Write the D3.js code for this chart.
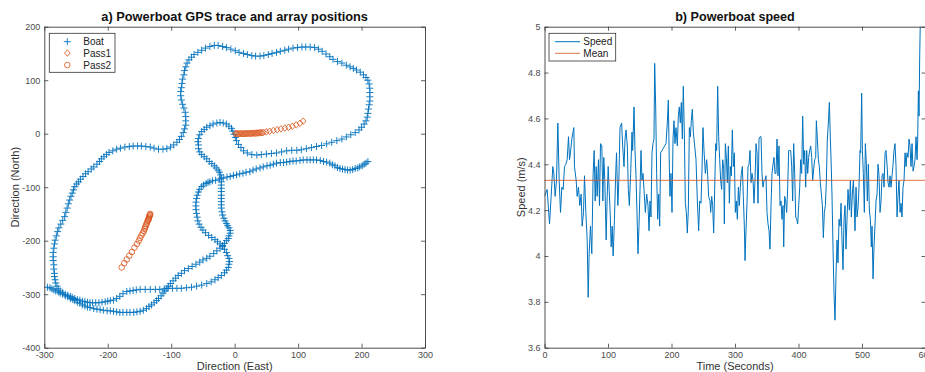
<!DOCTYPE html>
<html><head><meta charset="utf-8">
<script src="https://cdn.jsdelivr.net/npm/d3@7"></script>
<style>body{margin:0;background:#fff;} svg text{font-family:"Liberation Sans",Arial,Helvetica,sans-serif;}</style>
</head><body><svg id="chart" width="925" height="372"></svg>
<script>
// ---------------- data ----------------
const boatTrack = [
[-295,-287],[-291,-288],[-288,-290],[-285,-292],[-282,-294],[-278,-296],[-275,-298],[-271,-300],[-267,-303],[-263,-305],
[-259,-308],[-255,-310],[-252,-312],[-248,-315],[-244,-317],[-240,-320],[-236,-322],[-232,-324],[-228,-325],[-222,-327],
[-217,-328],[-212,-329],[-207,-330],[-201,-331],[-196,-331],[-191,-332],[-186,-333],[-181,-334],[-176,-334],[-170,-334],
[-165,-334],[-159,-334],[-154,-333],[-149,-332],[-144,-330],[-139,-327],[-135,-323],[-131,-320],[-127,-316],[-123,-312],
[-120,-308],[-116,-303],[-113,-298],[-110,-294],[-107,-289],[-104,-285],[-101,-280],[-97,-275],[-93,-270],[-89,-265],
[-84,-261],[-79,-256],[-73,-252],[-67,-248],[-61,-244],[-55,-240],[-50,-236],[-44,-233],[-39,-229],[-33,-224],
[-28,-219],[-23,-214],[-19,-209],[-16,-205],[-13,-200],[-10,-196],[-9,-191],[-7,-186],[-7,-181],[-9,-176],
[-11,-172],[-13,-168],[-15,-163],[-17,-158],[-19,-152],[-20,-146],[-21,-139],[-21,-133],[-21,-127],[-21,-121],
[-21,-115],[-21,-108],[-21,-102],[-21,-96],[-21,-90],[-21,-83],[-22,-77],[-24,-72],[-26,-68],[-29,-64],
[-32,-60],[-36,-56],[-40,-52],[-44,-47],[-48,-43],[-52,-39],[-55,-34],[-57,-28],[-57,-21],[-58,-15],
[-57,-9],[-55,-2],[-52,4],[-48,8],[-44,12],[-39,15],[-34,18],[-28,20],[-23,21],[-18,20],
[-13,18],[-9,14],[-5,10],[-3,5],[-1,-1],[1,-7],[3,-13],[6,-20],[10,-26],[14,-32],
[20,-36],[27,-39],[35,-40],[42,-39],[50,-38],[58,-37],[66,-36],[74,-34],[82,-32],[90,-31],
[98,-31],[105,-30],[113,-28],[121,-26],[129,-24],[137,-22],[145,-19],[153,-16],[161,-13],[169,-10],
[176,-6],[183,-2],[190,2],[196,7],[200,12],[204,18],[207,24],[209,31],[210,38],[211,46],
[212,54],[213,61],[213,69],[213,77],[213,85],[212,93],[210,100],[207,105],[203,110],[198,115],
[192,119],[187,122],[182,125],[176,128],[169,132],[162,135],[155,139],[150,144],[144,149],[138,154],
[132,158],[126,161],[119,162],[112,162],[106,162],[99,161],[92,160],[85,158],[79,156],[72,154],
[66,152],[59,150],[53,148],[46,146],[40,145],[33,145],[27,146],[20,148],[14,150],[7,152],
[1,155],[-6,158],[-13,161],[-19,163],[-26,165],[-32,165],[-39,163],[-46,160],[-52,156],[-58,152],
[-64,148],[-68,143],[-72,138],[-75,132],[-77,125],[-79,118],[-80,110],[-82,102],[-83,94],[-84,86],
[-85,79],[-85,71],[-84,63],[-82,55],[-80,48],[-78,40],[-77,32],[-77,24],[-77,16],[-79,9],
[-81,2],[-84,-5],[-87,-11],[-91,-16],[-96,-21],[-101,-25],[-107,-28],[-113,-29],[-120,-29],[-127,-27],
[-133,-25],[-140,-24],[-147,-23],[-153,-23],[-160,-23],[-166,-24],[-173,-25],[-180,-27],[-186,-29],[-192,-32],
[-198,-35],[-202,-39],[-206,-43],[-210,-47],[-213,-52],[-217,-57],[-222,-62],[-226,-66],[-231,-71],[-235,-75],
[-239,-80],[-243,-85],[-246,-90],[-249,-94],[-252,-99],[-254,-105],[-256,-111],[-258,-117],[-260,-124],[-262,-131],
[-264,-139],[-266,-147],[-268,-155],[-271,-162],[-274,-169],[-277,-176],[-279,-183],[-281,-191],[-283,-199],[-284,-206],
[-285,-214],[-286,-222],[-286,-230],[-286,-237],[-285,-245],[-285,-253],[-284,-261],[-284,-267],[-283,-273],[-282,-279],
[-280,-285],[-278,-290],[-275,-294],[-271,-297],[-267,-300],[-263,-302],[-259,-304],[-256,-306],[-252,-308],[-248,-310],
[-244,-311],[-240,-313],[-236,-314],[-232,-315],[-228,-316],[-224,-316],[-219,-316],[-214,-316],[-209,-315],[-204,-314],
[-200,-313],[-196,-312],[-191,-311],[-186,-308],[-181,-304],[-176,-299],[-170,-295],[-165,-294],[-160,-293],[-155,-292],
[-149,-291],[-141,-291],[-133,-291],[-125,-291],[-118,-291],[-111,-290],[-105,-289],[-98,-289],[-91,-289],[-84,-289],
[-76,-288],[-68,-287],[-60,-285],[-52,-283],[-44,-280],[-37,-277],[-31,-273],[-26,-269],[-21,-265],[-16,-260],
[-13,-255],[-10,-250],[-9,-244],[-8,-239],[-9,-233],[-11,-228],[-13,-222],[-16,-216],[-19,-211],[-23,-206],
[-27,-202],[-31,-198],[-36,-194],[-41,-190],[-46,-185],[-50,-180],[-53,-175],[-56,-169],[-58,-163],[-59,-156],
[-60,-149],[-61,-142],[-61,-135],[-61,-128],[-60,-121],[-59,-115],[-57,-109],[-55,-104],[-52,-99],[-49,-96],
[-45,-93],[-42,-91],[-39,-90],[-35,-88],[-30,-87],[-24,-85],[-18,-83],[-12,-81],[-7,-80],[-2,-78],
[3,-77],[8,-75],[13,-74],[18,-72],[24,-71],[29,-68],[34,-66],[40,-64],[45,-62],[51,-60],
[56,-59],[61,-57],[66,-55],[72,-54],[77,-54],[82,-53],[87,-52],[92,-51],[97,-51],[103,-50],
[108,-49],[114,-49],[119,-49],[124,-49],[129,-49],[135,-50],[140,-52],[145,-53],[150,-55],[154,-58],
[158,-60],[162,-63],[166,-65],[170,-66],[174,-67],[178,-68],[182,-68],[186,-67],[190,-65],[194,-64],
[197,-62],[201,-60],[204,-57],[207,-55],[210,-52]
];
const pass1Positions = [
[1,0],[3,0],[5,0],[7,0],[9,0],[11,0],[13,0],[15,0],[17,0.3],[19,0.3],[21,0.5],[23,0.5],[25,0.5],[27,0.7],
[29,0.8],[31,1],[33,1],[35,1.2],[37,1.4],[39,1.6],[41,1.8],[43,2],[45.5,2.5],[50,3.5],[55,4.5],[61,6],
[67,7.5],[73,9],[79,10.5],[85,12],[91,14],[97,16.5],[103,19.5],[108,23.5]
];
const pass2Positions = [
[-178,-250],[-174,-242],[-170,-235],[-166,-228],[-162,-221],[-158,-213],[-154,-206],[-151,-200],[-149,-195],
[-147,-190],[-145,-186],[-143,-182],[-142,-178],[-141,-175],[-140,-172],[-139,-169],[-138,-166],[-137,-163],
[-136,-161],[-135.5,-159],[-135,-157],[-134.5,-155],[-134,-153],[-133.5,-151.5],[-133,-150]
];
const speedSamples = [
[0,4.26],[4.2,4.29],[7.9,4.14],[10.5,4.26],[13.1,4.39],[14.7,4.36],[16.8,4.26],[18.9,4.33],[21,4.58],[23.1,4.33],
[25.2,4.19],[27.3,4.30],[29.4,4.29],[31.5,4.39],[33.6,4.40],[35.7,4.42],[37.8,4.52],[39.4,4.42],[40.9,4.45],[43,4.51],
[46.2,4.56],[47.2,4.39],[49.9,4.33],[51.4,4.26],[53.5,4.30],[55.6,4.22],[57.7,4.27],[59.3,4.13],[61.4,4.19],[63,4.35],
[65.1,4.19],[67.2,4.07],[68.8,3.82],[70.3,4.01],[72.4,4.13],[74.5,4.01],[76.6,4.36],[78.2,4.46],[79.8,4.24],[81.4,4.39],
[82.9,4.26],[85,4.42],[86.6,4.22],[88.2,4.49],[90.3,4.48],[91.9,4.24],[93.4,4.43],[95,4.33],[97.1,4.07],[98.7,4.26],
[100.3,4.39],[101.8,4.29],[103.4,4.19],[105,4.04],[106.6,4.13],[108.1,4.00],[110.2,4.16],[111.8,4.33],[113.4,4.45],[115.5,4.22],
[117.1,4.33],[118.9,4.56],[121.5,4.58],[123.1,4.48],[125.2,4.39],[126.8,4.51],[128.4,4.55],[130.4,4.48],[132,4.29],[133.6,4.22],
[135.7,4.36],[137.8,4.54],[138.8,4.46],[141,4.65],[142.5,4.46],[144.1,4.35],[146.2,4.13],[147.2,4.01],[148.8,4.13],[150.4,4.29],
[152,4.46],[153.5,4.33],[155.1,4.36],[156.7,4.29],[158.8,4.19],[160.9,4.27],[163,4.22],[164.6,4.11],[166.1,4.24],[167.7,4.17],
[169.3,4.45],[170.9,4.49],[172.4,4.51],[173.5,4.84],[175.1,4.65],[176.6,4.36],[178.2,4.16],[179.8,4.27],[181.4,4.13],[182.9,4.45],
[185,4.46],[187.1,4.47],[189.2,4.48],[191.3,4.49],[193.4,4.58],[195,4.68],[196.6,4.39],[197.6,4.26],[199.2,4.36],[200.8,4.19],
[202.4,4.51],[203.9,4.59],[205.5,4.49],[207.1,4.56],[209.2,4.48],[210.8,4.61],[212.3,4.65],[213.9,4.58],[215.5,4.67],[217.1,4.51],
[218.6,4.74],[220.2,4.54],[221.8,4.23],[223.4,4.19],[224.9,4.10],[226.5,4.20],[228.1,4.56],[229.7,4.52],[231.2,4.59],[232.8,4.64],
[234.4,4.54],[236.5,4.48],[238.6,4.42],[240.7,4.24],[242.8,4.11],[244.4,4.24],[246.5,4.23],[248.1,4.38],[249.6,4.56],[251.2,4.46],
[253.3,4.36],[255.4,4.42],[257,4.35],[258.5,4.26],[260.6,4.24],[261.7,4.19],[263.3,4.26],[264.8,4.22],[266.4,4.10],[268,4.29],
[269.6,4.49],[271.1,4.46],[272.7,4.74],[274.3,4.52],[275.9,4.42],[277.4,4.33],[279,4.29],[280.6,4.42],[282.2,4.38],[283.2,4.14],
[284.8,4.49],[286.4,4.43],[287.9,4.32],[289.5,4.48],[291.1,4.23],[292.7,4.39],[294.2,4.35],[295.8,4.55],[297.4,4.39],[299,4.45],
[300.5,4.19],[302.1,4.24],[303.7,4.16],[305.3,4.30],[306.8,4.22],[308.4,4.30],[310,4.36],[311.6,4.39],[313.1,4.26],[314.7,4.13],
[315.8,3.98],[317.3,4.11],[318.9,4.23],[320.5,4.39],[322.1,4.40],[323.6,4.46],[325.2,4.32],[326.8,4.36],[328.4,4.33],[329.9,4.23],
[331.5,4.33],[333.1,4.49],[334.7,4.45],[336.2,4.23],[337.8,4.51],[339.4,4.52],[341,4.52],[342.5,4.36],[344.1,4.30],[345.7,4.33],
[347.3,4.33],[348.8,4.35],[350.4,4.19],[352,4.14],[353.6,4.11],[355.1,4.03],[356.7,4.22],[358.3,4.36],[359.9,4.40],[361.4,4.43],
[363,4.36],[364.6,4.36],[366.2,4.51],[367.7,4.35],[369.3,4.48],[370.9,4.22],[372.5,4.24],[374,4.16],[375.6,4.22],[376.7,4.04],
[378.2,4.26],[379.8,4.24],[381.4,4.19],[383,4.30],[384.5,4.46],[386.1,4.46],[387.7,4.46],[389.3,4.39],[390.8,4.24],[392.4,4.49],
[394,4.36],[395.6,4.17],[397.1,4.16],[398.7,4.14],[400.3,4.22],[401.9,4.30],[403.4,4.42],[405,4.36],[406.6,4.61],[408.2,4.40],
[409.7,4.46],[411.3,4.30],[412.9,4.46],[414.5,4.36],[416,4.43],[417.6,4.46],[419.2,4.48],[420.8,4.43],[422.3,4.33],[423.9,4.38],
[425.5,4.42],[427.1,4.43],[428.1,4.59],[429.7,4.51],[431.3,4.42],[432.8,4.39],[434.4,4.32],[436,4.27],[437.6,4.22],[439.1,4.08],
[440.7,4.19],[442.3,4.22],[443.9,4.33],[445.4,4.51],[447,4.58],[448.6,4.67],[450.2,4.51],[451.7,4.38],[452.8,4.26],[454.4,4.03],
[455.9,3.84],[457.5,3.72],[459.1,3.92],[460.7,4.07],[462.2,3.97],[463.8,4.16],[465.4,4.13],[467,4.23],[468.5,4.07],[470.1,3.94],
[471.7,4.16],[473.3,4.22],[474.8,4.03],[476.4,4.16],[478,4.29],[480.1,4.20],[481.7,4.33],[483.2,4.17],[484.8,4.27],[486.4,4.33],
[488,4.21],[489,4.11],[490.6,4.30],[492.2,4.17],[493.7,4.21],[495.3,4.30],[496.9,4.46],[497.9,4.45],[499.5,4.71],[500.6,4.46],
[502.1,4.36],[503.7,4.19],[505.3,4.49],[506.9,4.40],[508.4,4.24],[510,4.40],[511.6,4.20],[513.2,4.16],[514.7,4.04],[515.8,4.13],
[517.4,3.90],[518.9,4.04],[520.5,4.14],[522.1,4.24],[523.7,4.27],[525.2,4.40],[526.8,4.35],[528.4,4.19],[530,4.24],[531.5,4.35],
[533.1,4.36],[534.7,4.30],[536.3,4.45],[537.8,4.46],[539.4,4.40],[541,4.32],[542.6,4.30],[544.1,4.35],[545.7,4.30],[547.3,4.35],
[548.9,4.40],[550.4,4.46],[552,4.49],[553.6,4.39],[555.2,4.17],[556.7,4.26],[558.3,4.33],[559.9,4.19],[561.5,4.23],[563,4.17],
[564.6,4.30],[566.2,4.33],[567.8,4.45],[569.3,4.39],[570.9,4.45],[572.5,4.43],[574.1,4.51],[575.6,4.48],[577.2,4.39],[578.8,4.49],
[580.4,4.37],[581.9,4.39],[583.5,4.42],[585.1,4.52],[586.7,4.42],[587.7,4.51],[588.8,4.72],[589.8,4.61],[590.9,4.88],[591.9,5.03]
];
const speedMean = 4.33;
const gpsXTicks = [-300,-200,-100,0,100,200,300];
const gpsYTicks = [-400,-300,-200,-100,0,100,200];
const speedXTicks = [0,100,200,300,400,500,600];
const speedYTicks = [3.6,3.8,4,4.2,4.4,4.6,4.8,5];
const titles = ["a) Powerboat GPS trace and array positions", "b) Powerboat speed"];
const gpsLegend = ["Boat","Pass1","Pass2"];
const speedLegend = ["Speed","Mean"];

// ---------------- drawing ----------------
const svg = d3.select("#chart");
const blue = "#0072BD", orange = "#D95319", axisCol = "#3a3a3a", tickText = "#4a4a4a";
const gpsBox = {left:44.3, right:425, top:26.7, bottom:347.7};
const spdBox = {left:544.5, right:925.5, top:26.7, bottom:347.7};

const xE = d3.scaleLinear([-300,300],[gpsBox.left,gpsBox.right]);
const yN = d3.scaleLinear([-400,200],[gpsBox.bottom,gpsBox.top]);
const xT = d3.scaleLinear([0,600],[spdBox.left,spdBox.right]);
const yS = d3.scaleLinear([3.6,5],[spdBox.bottom,spdBox.top]);

function frame(box, x, y, xt, yt) {
  const g = svg.append("g");
  const fmt = d => String(+d.toFixed(1));
  const style = sel => {
    sel.selectAll("path.domain").attr("stroke", axisCol).attr("stroke-width", 0.9);
    sel.selectAll(".tick line").attr("stroke", axisCol).attr("stroke-width", 0.8);
    sel.selectAll(".tick text").attr("fill", tickText).attr("font-size", 9)
      .attr("font-family", '"Liberation Sans",Arial,sans-serif');
  };
  g.append("g").attr("transform",`translate(0,${box.bottom})`)
    .call(d3.axisBottom(x).tickValues(xt).tickSizeInner(-4).tickSizeOuter(0).tickPadding(4).tickFormat(fmt)).call(style);
  g.append("g").attr("transform",`translate(0,${box.top})`)
    .call(d3.axisTop(x).tickValues(xt).tickSizeInner(-4).tickSizeOuter(0).tickFormat("")).call(style);
  g.append("g").attr("transform",`translate(${box.left},0)`)
    .call(d3.axisLeft(y).tickValues(yt).tickSizeInner(-4).tickSizeOuter(0).tickPadding(4).tickFormat(fmt)).call(style);
  g.append("g").attr("transform",`translate(${box.right},0)`)
    .call(d3.axisRight(y).tickValues(yt).tickSizeInner(-4).tickSizeOuter(0).tickFormat("")).call(style);
}

// ----- left plot -----
const plus = "M-3.5,0H3.5M0,-3.5V3.5";
const diamond = "M0,-3.3L2.8,0L0,3.3L-2.8,0Z";
svg.append("g").selectAll("path").data(boatTrack).join("path")
  .attr("transform", d => `translate(${xE(d[0])},${yN(d[1])})`)
  .attr("d", plus).attr("stroke", blue).attr("stroke-width", 0.9).attr("fill", "none");
svg.append("g").selectAll("path").data(pass1Positions).join("path")
  .attr("transform", d => `translate(${xE(d[0])},${yN(d[1])})`)
  .attr("d", diamond).attr("stroke", orange).attr("stroke-width", 0.8).attr("fill", "none");
svg.append("g").selectAll("circle").data(pass2Positions).join("circle")
  .attr("cx", d => xE(d[0])).attr("cy", d => yN(d[1])).attr("r", 2.8)
  .attr("stroke", orange).attr("stroke-width", 0.8).attr("fill", "none");
frame(gpsBox, xE, yN, gpsXTicks, gpsYTicks);

// ----- right plot -----
svg.append("clipPath").attr("id","spdclip").append("rect")
  .attr("x", spdBox.left).attr("y", spdBox.top)
  .attr("width", spdBox.right-spdBox.left).attr("height", spdBox.bottom-spdBox.top);
svg.append("path").datum(speedSamples)
  .attr("clip-path","url(#spdclip)")
  .attr("d", d3.line().x(d => xT(d[0])).y(d => yS(d[1])))
  .attr("fill","none").attr("stroke", blue).attr("stroke-width", 1).attr("stroke-linejoin","round");
svg.append("line").attr("x1", xT(0)).attr("x2", xT(600)).attr("y1", yS(speedMean)).attr("y2", yS(speedMean))
  .attr("stroke", orange).attr("stroke-width", 1).attr("stroke-opacity", 0.8);
frame(spdBox, xT, yS, speedXTicks, speedYTicks);

// ----- titles & labels -----
const txt = (x, y, s, size, opts={}) => {
  const t = svg.append("text").attr("x", x).attr("y", y).text(s).attr("font-size", size)
    .attr("fill", opts.fill || "#262626").attr("text-anchor", opts.anchor || "middle");
  if (opts.bold) t.attr("font-weight", "bold");
  if (opts.rot) t.attr("transform", `rotate(-90,${x},${y})`);
  return t;
};
txt((gpsBox.left+gpsBox.right)/2, 20.5, titles[0], 12.8, {bold:true, fill:"#111"});
txt((spdBox.left+spdBox.right)/2, 20.5, titles[1], 12.6, {bold:true, fill:"#111"});
txt((gpsBox.left+gpsBox.right)/2, 370, "Direction (East)", 11, {fill:"#333"});
txt((spdBox.left+spdBox.right)/2, 370, "Time (Seconds)", 11, {fill:"#333"});
txt(19.5, (gpsBox.top+gpsBox.bottom)/2, "Direction (North)", 11, {rot:true, fill:"#333"});
txt(525, (spdBox.top+spdBox.bottom)/2, "Speed (m/s)", 11, {rot:true, fill:"#333"});

// ----- legends -----
const lg1 = svg.append("g");
lg1.append("rect").attr("x", 49.3).attr("y", 33.3).attr("width", 65.7).attr("height", 39)
  .attr("fill", "#fff").attr("stroke", "#333").attr("stroke-width", 0.8);
const ly = [41.7, 53, 65];
lg1.append("path").attr("transform", `translate(67.3,${ly[0]})`).attr("d", plus)
  .attr("stroke", blue).attr("stroke-width", 0.9).attr("fill","none");
lg1.append("path").attr("transform", `translate(67.3,${ly[1]})`).attr("d", diamond)
  .attr("stroke", orange).attr("stroke-width", 0.8).attr("fill","none");
lg1.append("circle").attr("cx", 67.3).attr("cy", ly[2]).attr("r", 2.8)
  .attr("stroke", orange).attr("stroke-width", 0.8).attr("fill","none");
gpsLegend.forEach((s,i) => txt(83.3, ly[i]+3.5, s, 10, {anchor:"start", fill:"#222"}));

const lg2 = svg.append("g");
lg2.append("rect").attr("x", 549).attr("y", 33.3).attr("width", 66.7).attr("height", 27.7)
  .attr("fill", "#fff").attr("stroke", "#333").attr("stroke-width", 0.8);
const ly2 = [41.7, 53.3];
lg2.append("line").attr("x1", 555).attr("x2", 580).attr("y1", ly2[0]).attr("y2", ly2[0]).attr("stroke", blue).attr("stroke-width", 1);
lg2.append("line").attr("x1", 555).attr("x2", 580).attr("y1", ly2[1]).attr("y2", ly2[1]).attr("stroke", orange).attr("stroke-width", 1).attr("stroke-opacity",0.8);
speedLegend.forEach((s,i) => txt(583.3, ly2[i]+3.5, s, 10, {anchor:"start", fill:"#222"}));
</script></body></html>
